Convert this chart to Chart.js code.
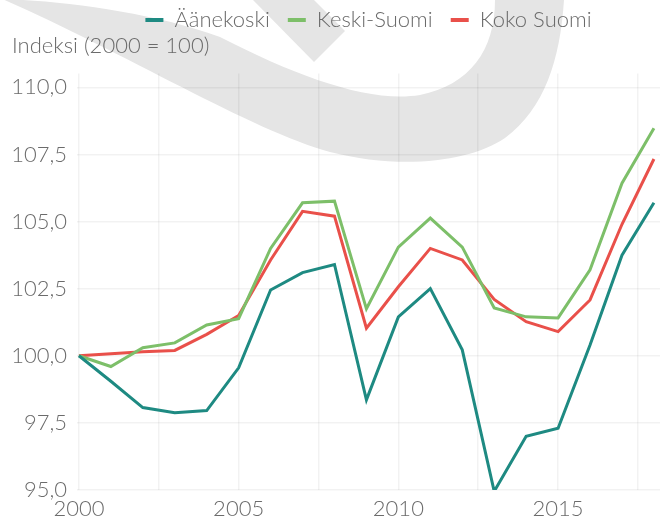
<!DOCTYPE html>
<html>
<head>
<meta charset="utf-8">
<script src="https://cdn.jsdelivr.net/npm/chart.js@4/dist/chart.umd.min.js"></script>
<style>
  html, body { margin: 0; padding: 0; background: #fff; }
  #wrap { width: 670px; height: 516px; }
</style>
</head>
<body>
<div id="wrap"><canvas id="chartIndeksi"></canvas></div>
<script>
// Indeksi (2000 = 100), vuodet 2000-2018

const vuodet = [2000, 2001, 2002, 2003, 2004, 2005, 2006, 2007, 2008, 2009,
  2010, 2011, 2012, 2013, 2014, 2015, 2016, 2017, 2018];

const aanekoski = [100, 99.05, 98.07, 97.88, 97.96, 99.55, 102.45, 103.1, 103.4, 98.36,
  101.45, 102.5, 100.22, 94.95, 97.0, 97.3, 100.4, 103.75, 105.7];
const keskiSuomi = [100, 99.6, 100.3, 100.48, 101.15, 101.38, 104.0, 105.7, 105.76, 101.75,
  104.05, 105.13, 104.05, 101.78, 101.45, 101.41, 103.2, 106.43, 108.48];
const kokoSuomi = [100, 100.08, 100.15, 100.2, 100.8, 101.5, 103.57, 105.38, 105.2, 101.03,
  102.57, 104.0, 103.57, 102.1, 101.27, 100.9, 102.08, 104.9, 107.33];

const xTicks = [2000, 2002.5, 2005, 2007.5, 2010, 2012.5, 2015, 2017.5];
const yTicks = [95, 97.5, 100, 102.5, 105, 107.5, 110];

const tekstiVari = '#6b6b6b';
const fontti = 'Lato, "Open Sans", sans-serif';
const koko = 22;

function pisteet(arvot) {
  return vuodet.map((v, i) => ({ x: v, y: arvot[i] }));
}

// taustalla oleva harmaa vesileima
const vesileima = {
  id: 'vesileima',
  beforeDraw(chart) {
    const ctx = chart.ctx;
    ctx.save();
    ctx.fillStyle = '#e5e5e5';
    ctx.beginPath();
    ctx.moveTo(0, -2);
    ctx.bezierCurveTo(120, 50, 250, 130, 330, 152);
    ctx.bezierCurveTo(400, 170, 470, 162, 505, 138);
    ctx.bezierCurveTo(545, 108, 560, 60, 564, 0);
    ctx.lineTo(495, 0);
    ctx.bezierCurveTo(495, 50, 470, 85, 420, 95);
    ctx.bezierCurveTo(370, 103, 300, 78, 220, 37);
    ctx.bezierCurveTo(160, 15, 80, 3, 23, 0);
    ctx.closePath();
    ctx.fill();
    ctx.beginPath();
    ctx.moveTo(253, 0);
    ctx.lineTo(314, 62);
    ctx.lineTo(345, 31);
    ctx.lineTo(314, 0);
    ctx.closePath();
    ctx.fill();
    ctx.restore();
  },
  afterLayout(chart) {
    chart.legend.top -= 6;
    chart.legend.bottom -= 6;
    chart.titleBlock.top -= 14;
    chart.titleBlock.bottom -= 14;
  }
};

document.addEventListener('DOMContentLoaded', function() {
  const el = document.getElementById('chartIndeksi');
  Chart.defaults.font.family = fontti;
  Chart.defaults.font.weight = 300;
  Chart.defaults.color = tekstiVari;

  new Chart(el, {
    type: 'line',
    data: {
      datasets: [
        { label: 'Äänekoski', data: pisteet(aanekoski), borderColor: '#1e8a82', backgroundColor: '#1e8a82' },
        { label: 'Keski-Suomi', data: pisteet(keskiSuomi), borderColor: '#7dbf69', backgroundColor: '#7dbf69' },
        { label: 'Koko Suomi', data: pisteet(kokoSuomi), borderColor: '#e9504a', backgroundColor: '#e9504a' }
      ]
    },
    options: {
      responsive: true,
      maintainAspectRatio: false,
      animation: false,
      layout: { padding: { top: -3, left: 12, right: 10, bottom: 0 } },
      elements: {
        line: { borderWidth: 3, tension: 0, fill: false },
        point: { radius: 0, hoverRadius: 0 }
      },
      plugins: {
        legend: {
          position: 'top',
          fullSize: false,
          weight: 1000,
          labels: {
            font: { size: koko, weight: 300 },
            color: tekstiVari,
            boxWidth: 18,
            boxHeight: 4,
            padding: 18,
            generateLabels: chart => Chart.defaults.plugins.legend.labels.generateLabels(chart)
              .map(l => Object.assign(l, { lineWidth: 0 }))
          }
        },
        title: {
          display: true,
          text: 'Indeksi (2000 = 100)',
          align: 'start',
          position: 'top',
          weight: 500,
          color: tekstiVari,
          font: { size: koko, weight: 300, lineHeight: 1.2 },
          padding: { top: 0, bottom: 0 }
        },
        tooltip: { enabled: false }
      },
      scales: {
        x: {
          type: 'linear',
          min: 1999.94,
          max: 2018.19,
          afterBuildTicks: scale => { scale.ticks = xTicks.map(v => ({ value: v })); },
          afterFit: scale => { scale.height = 26; },
          border: { display: false },
          grid: { color: 'rgba(0,0,0,0.05)', lineWidth: 1.5, drawTicks: false },
          ticks: {
            padding: 6,
            maxRotation: 0,
            autoSkip: false,
            font: { size: koko, weight: 300 },
            color: tekstiVari,
            callback: v => (v % 5 === 0 ? String(v) : '')
          }
        },
        y: {
          min: 95,
          max: 110.52,
          afterBuildTicks: scale => { scale.ticks = yTicks.map(v => ({ value: v })); },
          afterFit: scale => { scale.width = 65; },
          border: { display: false },
          grid: { color: 'rgba(0,0,0,0.05)', lineWidth: 1.5, drawTicks: false },
          ticks: {
            padding: 10,
            font: { size: koko, weight: 300 },
            color: tekstiVari,
            callback: v => v.toFixed(1).replace('.', ',')
          }
        }
      }
    },
    plugins: [vesileima]
  });
});
</script>
</body>
</html>
